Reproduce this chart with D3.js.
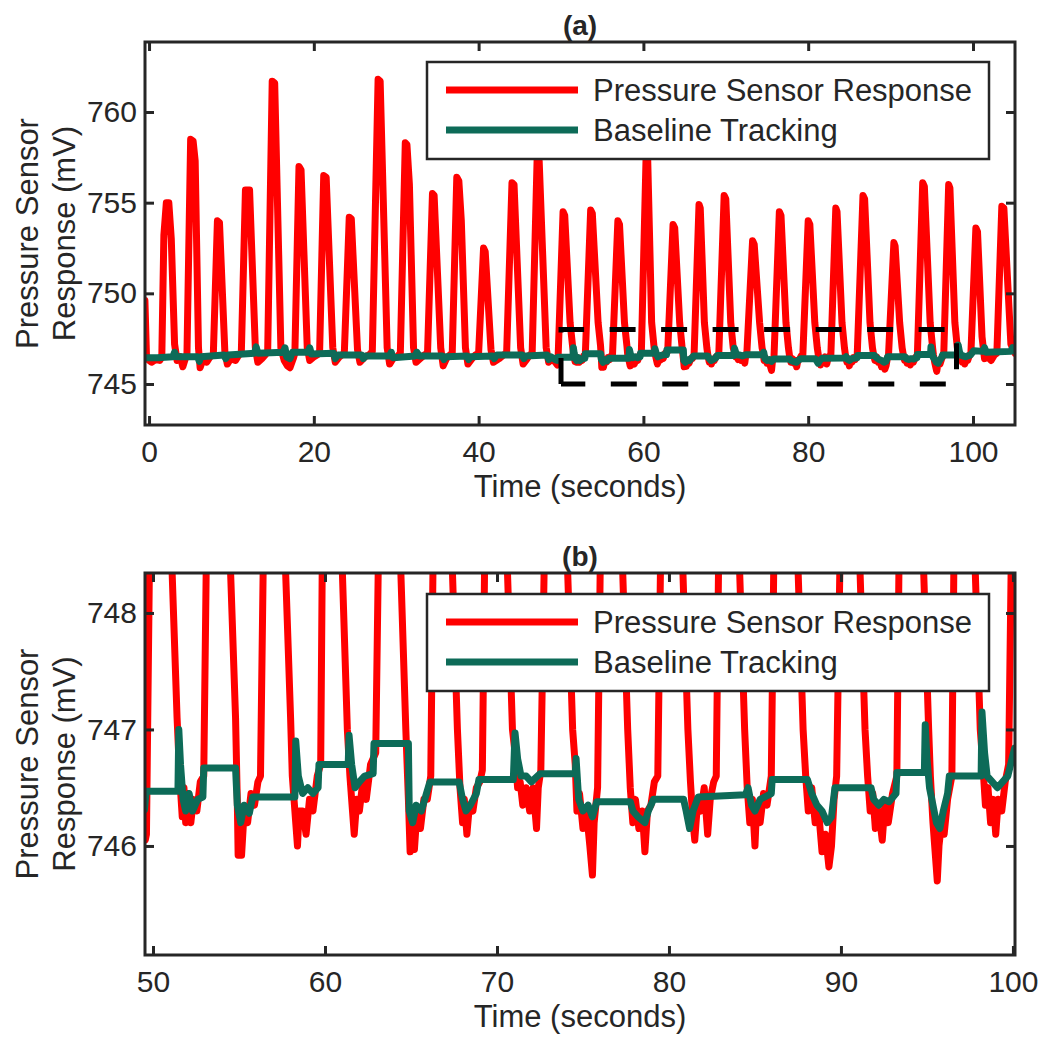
<!DOCTYPE html>
<html lang="en">
<head>
<meta charset="UTF-8">
<title>pressure sensor baseline tracking</title>
<script src="https://d3js.org/d3.v7.min.js"></script>
<style>
    body { margin: 0; background: #ffffff; }
    svg text { font-family: "Liberation Sans", Arial, Helvetica, sans-serif; fill: #262626; }
    .trace { fill: none; stroke-width: 7; stroke-linejoin: round; stroke-linecap: round; }
</style>
</head>
<body>
<svg id="fig" width="1050" height="1047"></svg>

<script>
    // values
    let seriesNames = ["Pressure Sensor Response", "Baseline Tracking"]
    let panelTitles = ["(a)", "(b)"]
    let xLabel = "Time (seconds)"
    let yLabel = ["Pressure Sensor", "Response (mV)"]

    let timeTicksA = [0, 20, 40, 60, 80, 100]
    let mvTicksA = [745, 750, 755, 760]
    let timeTicksB = [50, 60, 70, 80, 90, 100]
    let mvTicksB = [746, 747, 748]

    // dashed box in (a) marking the zoomed region
    let zoomBoxTime = [50, 98]
    let zoomBoxMv = [745, 748]

    // [time s, mV]
    let pressureResponse = [
        [-0.5, 749.6], [-0.3, 746.4], [0.3, 746.2], [0.8, 746.35], [1.3, 746.3],
        [1.55, 746.5], [1.8, 753.2], [2.1, 755.0], [2.4, 755.0], [2.7, 753.0], [3.1, 747.2], [3.4, 746.3], [3.8, 746.5], [4.1, 745.95], [4.4, 746.4],
        [4.6, 746.6], [5.05, 758.5], [5.35, 758.4], [5.6, 757.3], [6.0, 747.0], [6.2, 745.9], [6.5, 746.3], [7.0, 746.2], [7.4, 746.5],
        [7.8, 746.6], [8.3, 754.0], [8.55, 753.9], [9.2, 746.8], [9.5, 746.1], [9.9, 746.4], [10.5, 746.3], [10.9, 746.6],
        [11.2, 746.7], [11.7, 755.7], [12.2, 755.7], [12.9, 747.0], [13.2, 746.2], [13.7, 746.4], [14.1, 746.6],
        [14.4, 746.8], [14.95, 761.7], [15.25, 761.6], [16.0, 747.0], [16.4, 746.3], [16.8, 746.0], [17.1, 745.9], [17.5, 746.4],
        [17.7, 746.7], [18.2, 757.0], [18.45, 756.8], [19.2, 747.0], [19.5, 746.3], [20.0, 746.5], [20.4, 746.6],
        [20.7, 746.7], [21.2, 756.5], [21.5, 756.4], [22.3, 747.0], [22.6, 746.2], [23.1, 746.5], [23.4, 746.6],
        [23.7, 746.7], [24.3, 754.2], [24.55, 754.1], [25.3, 746.9], [25.6, 746.2], [26.2, 746.5], [26.7, 746.6],
        [27.1, 746.8], [27.8, 761.8], [28.05, 761.7], [28.9, 747.0], [29.2, 746.1], [29.6, 746.4], [30.1, 746.5],
        [30.5, 746.7], [31.1, 758.3], [31.3, 758.2], [31.6, 756.0], [32.1, 747.0], [32.4, 746.2], [32.9, 746.4], [33.4, 746.6],
        [33.8, 746.7], [34.4, 755.5], [34.6, 755.4], [35.4, 747.0], [35.7, 746.0], [36.1, 746.4], [36.5, 746.6],
        [36.8, 746.7], [37.35, 756.4], [37.6, 756.2], [37.9, 754.0], [38.4, 747.0], [38.7, 746.1], [39.2, 746.4], [39.6, 746.6],
        [40.0, 746.7], [40.6, 752.5], [40.8, 752.3], [41.5, 746.9], [41.8, 746.2], [42.5, 746.4], [43.0, 746.6],
        [43.4, 746.7], [44.05, 756.1], [44.3, 756.0], [45.1, 747.0], [45.4, 746.1], [45.9, 746.4], [46.2, 746.6],
        [46.5, 746.7], [47.1, 757.4], [47.35, 757.3], [48.2, 747.0], [48.5, 746.2], [48.9, 746.4], [49.3, 746.2],
        [49.55, 746.05], [49.62, 746.1], [50.25, 754.5], [50.45, 754.3], [51.1, 748.4], [51.4, 747.1],
        [51.55, 746.6], [51.7, 746.25], [51.8, 746.5], [51.9, 746.2], [52.05, 746.45], [52.2, 746.2], [52.35, 746.4], [52.55, 746.3], [52.75, 746.55], [52.95, 746.6],
        [53.6, 754.6], [53.8, 754.4], [54.5, 748.4], [54.8, 747.1],
        [54.9, 746.4], [54.95, 745.92], [55.05, 746.3], [55.15, 745.92], [55.3, 746.3], [55.5, 746.2], [55.7, 746.45], [55.9, 746.35], [56.1, 746.55], [56.25, 746.6],
        [56.9, 754.0], [57.1, 753.8], [57.7, 748.4], [58.0, 747.1],
        [58.1, 746.6], [58.3, 746.2], [58.4, 746.0], [58.5, 746.3], [58.7, 746.3], [58.9, 746.1], [59.1, 746.4], [59.3, 746.3], [59.55, 746.6], [59.75, 746.7],
        [60.35, 758.0], [60.5, 757.8], [61.0, 748.4], [61.3, 747.0],
        [61.45, 746.6], [61.6, 746.3], [61.7, 746.1], [61.85, 746.4], [62.0, 746.3], [62.2, 746.55], [62.4, 746.4], [62.65, 746.7], [62.95, 746.8],
        [63.6, 753.8], [63.8, 753.6], [64.4, 748.4], [64.7, 747.0],
        [64.85, 746.4], [64.95, 745.95], [65.05, 746.3], [65.2, 745.97], [65.35, 746.3], [65.55, 746.15], [65.75, 746.4], [65.95, 746.4], [66.15, 746.6],
        [66.75, 754.9], [66.9, 754.7], [67.4, 748.4], [67.7, 747.0],
        [67.85, 746.5], [68.0, 746.2], [68.1, 746.4], [68.25, 746.1], [68.4, 746.35], [68.6, 746.3], [68.8, 746.5], [69.0, 746.55], [69.15, 746.65],
        [69.8, 755.4], [70.0, 755.2], [70.6, 748.4], [70.9, 747.0],
        [71.05, 746.8], [71.2, 746.5], [71.35, 746.55], [71.5, 746.35], [71.7, 746.5], [71.9, 746.3], [72.1, 746.5], [72.3, 746.15], [72.4, 746.5], [72.55, 746.65],
        [73.25, 752.9], [73.45, 752.7], [74.1, 748.4], [74.4, 747.0],
        [74.55, 746.7], [74.65, 746.3], [74.8, 746.45], [75.0, 746.15], [75.2, 746.3], [75.4, 746.0], [75.55, 745.75], [75.65, 746.2], [75.85, 746.5],
        [76.5, 754.5], [76.7, 754.3], [77.3, 748.4], [77.6, 747.0],
        [77.75, 746.5], [77.9, 746.2], [78.05, 746.4], [78.25, 746.15], [78.45, 746.3], [78.6, 745.95], [78.75, 746.3], [78.95, 746.35], [79.15, 746.55], [79.35, 746.6],
        [80.0, 754.0], [80.2, 753.8], [80.8, 748.4], [81.1, 747.0],
        [81.25, 746.55], [81.4, 746.2], [81.5, 746.05], [81.65, 746.35], [81.85, 746.3], [82.05, 746.5], [82.25, 746.1], [82.4, 746.4], [82.6, 746.55], [82.75, 746.6],
        [83.35, 754.7], [83.5, 754.5], [84.1, 748.4], [84.4, 747.0],
        [84.55, 746.5], [84.7, 746.2], [84.85, 746.4], [85.0, 746.0], [85.1, 746.35], [85.3, 746.2], [85.5, 746.45], [85.7, 746.35], [85.95, 746.6],
        [86.65, 755.4], [86.85, 755.2], [87.5, 748.4], [87.8, 747.0],
        [87.95, 746.6], [88.1, 746.3], [88.3, 746.5], [88.5, 746.2], [88.7, 746.3], [88.9, 745.95], [89.1, 746.1], [89.3, 745.82], [89.45, 746.0], [89.6, 746.4], [89.75, 746.6],
        [90.4, 752.8], [90.55, 752.6], [91.1, 748.4], [91.4, 747.0],
        [91.55, 746.6], [91.7, 746.3], [91.85, 746.45], [92.0, 746.15], [92.2, 746.3], [92.4, 746.05], [92.55, 746.35], [92.75, 746.2], [93.0, 746.45], [93.25, 746.6],
        [93.9, 756.1], [94.1, 755.9], [94.8, 748.4], [95.1, 747.0],
        [95.2, 746.6], [95.35, 746.2], [95.5, 745.9], [95.6, 745.7], [95.7, 746.0], [95.85, 746.2], [96.0, 746.1], [96.2, 746.4], [96.45, 746.6],
        [97.05, 756.0], [97.2, 755.8], [97.8, 748.4], [98.1, 747.0],
        [98.25, 746.7], [98.4, 746.35], [98.55, 746.5], [98.7, 746.2], [98.85, 746.4], [99.0, 746.1], [99.15, 746.4], [99.35, 746.3], [99.55, 746.55], [99.75, 746.7],
        [100.35, 753.6], [100.55, 753.4], [101.1, 747.6], [101.4, 746.4], [101.8, 746.5], [102.2, 746.3], [102.6, 746.6], [102.9, 746.7],
        [103.5, 754.8], [103.75, 754.7], [104.6, 747.2], [105.1, 746.7]
    ]

    // [time s, mV]
    let baselineTracking = [
        [-0.5, 746.45], [1.0, 746.45], [2.9, 746.5], [3.1, 746.75], [3.3, 746.5], [5.9, 746.5], [6.1, 746.25], [6.3, 746.5],
        [9.1, 746.6], [9.3, 746.4], [9.6, 746.6], [12.8, 746.7], [13.0, 747.05], [13.2, 746.7], [16.3, 746.75], [16.5, 747.0],
        [16.7, 746.5], [17.1, 746.4], [17.4, 746.75], [19.3, 746.75], [19.5, 747.0], [19.7, 746.65], [22.4, 746.7], [22.6, 746.4],
        [22.9, 746.6], [25.8, 746.6], [26.0, 746.4], [26.3, 746.55], [29.2, 746.55], [29.4, 746.75], [29.6, 746.45], [32.3, 746.55],
        [32.5, 746.75], [32.8, 746.55], [35.6, 746.55], [35.8, 746.35], [36.0, 746.5], [38.6, 746.55], [38.8, 746.35], [39.0, 746.5],
        [41.7, 746.55], [41.9, 746.4], [42.2, 746.6], [45.3, 746.6], [45.5, 746.4], [45.7, 746.55], [48.3, 746.6], [48.5, 746.35],
        [48.8, 746.5], [49.3, 746.35], [49.5, 746.31], [49.6, 746.47],
        [51.45, 746.47], [51.5, 747.0], [51.6, 746.7], [51.75, 746.4], [51.9, 746.3], [52.1, 746.45], [52.3, 746.3], [52.6, 746.4], [52.9, 746.42],
        [52.95, 746.67], [54.8, 746.67], [54.9, 746.35], [55.1, 746.2], [55.3, 746.35], [55.6, 746.28], [55.8, 746.42],
        [58.25, 746.42], [58.3, 746.9], [58.45, 746.6], [58.7, 746.45], [59.0, 746.5], [59.3, 746.45], [59.6, 746.5],
        [59.65, 746.7], [61.35, 746.7], [61.4, 746.95], [61.55, 746.7], [61.75, 746.5], [62.0, 746.55], [62.3, 746.6], [62.8, 746.62],
        [62.85, 746.88], [64.85, 746.88], [64.9, 746.3], [65.1, 746.2], [65.3, 746.35], [65.6, 746.3], [65.9, 746.45], [66.1, 746.55],
        [67.8, 746.55], [68.0, 746.4], [68.2, 746.3], [68.45, 746.35], [68.8, 746.45], [68.95, 746.57],
        [70.95, 746.57], [71.05, 746.97], [71.2, 746.75], [71.4, 746.6], [71.7, 746.6], [72.0, 746.55], [72.5, 746.62],
        [74.55, 746.62], [74.6, 746.75], [74.75, 746.4], [75.0, 746.3], [75.3, 746.35], [75.55, 746.25], [75.8, 746.38],
        [77.75, 746.38], [77.9, 746.3], [78.2, 746.25], [78.6, 746.2], [78.8, 746.3], [79.1, 746.4],
        [80.85, 746.4], [81.0, 746.3], [81.2, 746.15], [81.4, 746.3], [81.7, 746.42],
        [84.45, 746.44], [84.6, 746.5], [84.8, 746.35], [85.0, 746.3], [85.3, 746.4], [85.95, 746.45], [86.0, 746.57],
        [88.05, 746.57], [88.3, 746.45], [88.6, 746.35], [88.9, 746.3], [89.2, 746.2], [89.45, 746.25], [89.65, 746.5],
        [91.75, 746.5], [91.9, 746.4], [92.2, 746.35], [92.5, 746.4], [92.8, 746.38], [93.2, 746.45], [93.25, 746.63],
        [94.85, 746.63], [94.9, 747.04], [95.0, 746.75], [95.15, 746.5], [95.35, 746.35], [95.55, 746.2], [95.75, 746.15],
        [95.95, 746.3], [96.2, 746.45], [96.3, 746.6],
        [98.15, 746.6], [98.2, 747.15], [98.35, 746.8], [98.5, 746.6], [98.8, 746.55], [99.1, 746.5], [99.4, 746.55], [99.7, 746.6],
        [100.1, 746.84], [101.2, 746.8], [101.4, 747.0], [101.6, 746.75], [104.6, 746.8], [104.8, 747.0], [105.1, 746.8]
    ]

    let RED = "#ff0000"
    let GREEN = "#0d6b58"
    let INK = "#262626"
    let seriesColors = [RED, GREEN]

    let svg = d3.select("#fig")

    let panels = [
        {id: "a", title: panelTitles[0], xDomain: [-0.49, 105.1], yDomain: [742.74, 763.86],
            left: 145, right: 1015, top: 42, bottom: 425,
            xTicks: timeTicksA, yTicks: mvTicksA, titleY: 35, xLabelY: 497, legendTop: 62, zoomBox: true},
        {id: "b", title: panelTitles[1], xDomain: [49.535, 100.12], yDomain: [745.064, 748.343],
            left: 145, right: 1015, top: 573, bottom: 955,
            xTicks: timeTicksB, yTicks: mvTicksB, titleY: 566, xLabelY: 1027, legendTop: 594, zoomBox: false}
    ]

    panels.forEach(drawPanel)

    function drawPanel(p) {
        let x = d3.scaleLinear().domain(p.xDomain).range([p.left, p.right])
        let y = d3.scaleLinear().domain(p.yDomain).range([p.bottom, p.top])
        let g = svg.append("g").attr("id", "panel-" + p.id)

        svg.append("clipPath").attr("id", "clip-" + p.id)
            .append("rect")
            .attr("x", p.left).attr("y", p.top)
            .attr("width", p.right - p.left).attr("height", p.bottom - p.top)

        let line = d3.line().x(d => x(d[0])).y(d => y(d[1]))

        let plot = g.append("g").attr("clip-path", "url(#clip-" + p.id + ")")
        plot.append("path").datum(pressureResponse)
            .attr("class", "trace").attr("stroke", RED).attr("d", line)
        plot.append("path").datum(baselineTracking)
            .attr("class", "trace").attr("stroke", GREEN).attr("d", line)

        if (p.zoomBox) {
            let corners = [
                [zoomBoxTime[0], zoomBoxMv[0]], [zoomBoxTime[0], zoomBoxMv[1]],
                [zoomBoxTime[1], zoomBoxMv[1]], [zoomBoxTime[1], zoomBoxMv[0]],
                [zoomBoxTime[0], zoomBoxMv[0]]
            ]
            g.append("path").datum(corners)
                .attr("d", line)
                .attr("fill", "none")
                .attr("stroke", "#000")
                .attr("stroke-width", 5)
                .attr("stroke-dasharray", "26 25.5")
        }

        // axes, ticks inside on all four sides
        let fmt = d3.format("d")
        let axes = g.append("g")
        axes.append("g").attr("transform", `translate(0,${p.bottom})`)
            .call(d3.axisBottom(x).tickValues(p.xTicks).tickFormat(fmt).tickSizeInner(-9).tickSizeOuter(0).tickPadding(16))
        axes.append("g").attr("transform", `translate(0,${p.top})`)
            .call(d3.axisTop(x).tickValues(p.xTicks).tickSizeInner(-9).tickSizeOuter(0).tickFormat(""))
        axes.append("g").attr("transform", `translate(${p.left},0)`)
            .call(d3.axisLeft(y).tickValues(p.yTicks).tickFormat(fmt).tickSizeInner(-9).tickSizeOuter(0).tickPadding(8))
        axes.append("g").attr("transform", `translate(${p.right},0)`)
            .call(d3.axisRight(y).tickValues(p.yTicks).tickSizeInner(-9).tickSizeOuter(0).tickFormat(""))
        axes.selectAll(".domain").remove()
        axes.selectAll(".tick line").attr("stroke", INK).attr("stroke-width", 3)
        axes.selectAll("g").attr("font-family", null).attr("font-size", 30)
        axes.selectAll(".tick text").attr("fill", INK)

        g.append("rect")
            .attr("x", p.left).attr("y", p.top)
            .attr("width", p.right - p.left).attr("height", p.bottom - p.top)
            .attr("fill", "none").attr("stroke", INK).attr("stroke-width", 3)

        // legend
        let lg = g.append("g")
        lg.append("rect")
            .attr("x", 427).attr("y", p.legendTop)
            .attr("width", 562).attr("height", 97)
            .attr("fill", "#fff").attr("stroke", INK).attr("stroke-width", 2.5)
        seriesNames.forEach(function (name, i) {
            let yy = p.legendTop + 28 + i * 40
            lg.append("line")
                .attr("x1", 446).attr("x2", 578).attr("y1", yy).attr("y2", yy)
                .attr("stroke", seriesColors[i]).attr("stroke-width", 7)
            lg.append("text")
                .attr("x", 593).attr("y", yy).attr("dy", "0.37em")
                .attr("font-size", 31).attr("fill", "#000")
                .text(name)
        })

        // titles and labels
        let mid = (p.left + p.right) / 2
        g.append("text")
            .attr("x", mid).attr("y", p.titleY)
            .attr("text-anchor", "middle").attr("font-size", 28).attr("font-weight", "bold")
            .attr("fill", "#000")
            .text(p.title)
        g.append("text")
            .attr("x", mid).attr("y", p.xLabelY)
            .attr("text-anchor", "middle").attr("font-size", 31)
            .text(xLabel)
        let yMid = (p.top + p.bottom) / 2
        yLabel.forEach(function (txt, i) {
            g.append("text")
                .attr("transform", `translate(${38 + i * 37},${yMid}) rotate(-90)`)
                .attr("text-anchor", "middle").attr("font-size", 31)
                .text(txt)
        })
    }
</script>
</body>
</html>
